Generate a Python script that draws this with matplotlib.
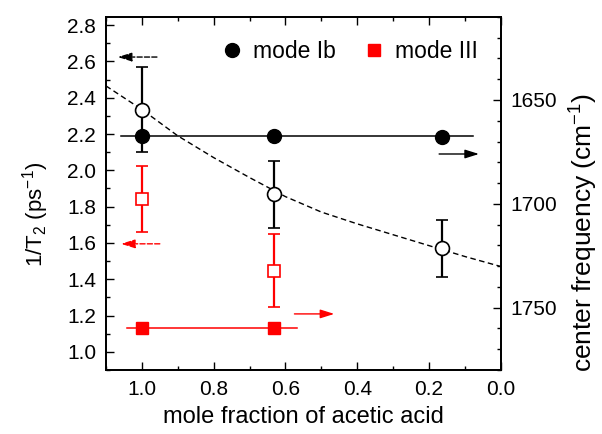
import matplotlib
matplotlib.use("Agg")
import matplotlib.pyplot as plt
from matplotlib.ticker import MultipleLocator
from matplotlib.lines import Line2D

plt.rcParams['font.family'] = ['Liberation Sans', 'DejaVu Sans']
plt.rcParams['mathtext.fontset'] = 'custom'
plt.rcParams['mathtext.rm'] = 'Liberation Sans'
plt.rcParams['mathtext.it'] = 'Liberation Sans'

# mole fraction of acetic acid
x_ib = [1.0, 0.633, 0.164]
x_iii = [1.0, 0.633]

# 1/T2 (left axis), open symbols
t2_ib = [2.335, 1.868, 1.572]
t2_ib_err = [0.235, 0.186, 0.157]
t2_iii = [1.842, 1.448]
t2_iii_err = [0.18, 0.2]

# dashed guide through the mode Ib 1/T2 values
guide_x = [1.1, 1.0, 0.9, 0.8, 0.7, 0.6, 0.5, 0.4, 0.3, 0.2, 0.1, 0.0]
guide_y = [2.465, 2.335, 2.19, 2.07, 1.96, 1.855, 1.77, 1.705, 1.645, 1.585, 1.525, 1.47]

# center frequency (right axis), filled symbols
freq_ib = [1667.4, 1667.4, 1667.8]
freq_iii = [1759.7, 1759.7]
freq_ib_line_x = [1.058, 0.078]
freq_iii_line_x = [1.042, 0.567]


def make_plot():
    fig = plt.figure(figsize=(6.02, 4.34), dpi=100)
    ax = fig.add_axes([0.176, 0.1475, 0.656, 0.8135])
    ax2 = ax.twinx()

    # left axis: 1/T2
    ax.plot(guide_x, guide_y, color='black', lw=1.0, ls=(0, (4, 2.5)))
    ax.errorbar(x_ib, t2_ib, yerr=t2_ib_err, fmt='o', mfc='white', mec='black',
                ms=10, mew=1.2, ecolor='black', elinewidth=1.6, capsize=4.5,
                capthick=1.6, zorder=3)
    ax.errorbar(x_iii, t2_iii, yerr=t2_iii_err, fmt='s', mfc='white', mec='red',
                ms=8, mew=1.2, ecolor='red', elinewidth=1.6, capsize=4.5,
                capthick=1.6, zorder=3)

    # right axis: center frequency
    ax2.plot(freq_ib_line_x, [freq_ib[0]] * 2, color='black', lw=1.1)
    ax2.plot(x_ib, freq_ib, 'o', color='black', ms=10)
    ax2.plot(freq_iii_line_x, [freq_iii[0]] * 2, color='red', lw=1.1)
    ax2.plot(x_iii, freq_iii, 's', color='red', ms=9)

    # arrows telling which axis each set belongs to
    head = '-|>,head_length=0.7,head_width=0.22'
    ax.annotate('', xy=(1.067, 2.624), xytext=(0.958, 2.624),
                arrowprops=dict(arrowstyle=head, color='black', lw=1.0, ls='--',
                                mutation_scale=12, shrinkA=0, shrinkB=0))
    ax.annotate('', xy=(1.058, 1.595), xytext=(0.95, 1.595),
                arrowprops=dict(arrowstyle=head, color='red', lw=1.0, ls='--',
                                mutation_scale=12, shrinkA=0, shrinkB=0))
    ax2.annotate('', xy=(0.061, 1676), xytext=(0.172, 1676),
                 arrowprops=dict(arrowstyle=head, color='black', lw=1.0,
                                 mutation_scale=12, shrinkA=0, shrinkB=0))
    ax2.annotate('', xy=(0.464, 1753), xytext=(0.575, 1753),
                 arrowprops=dict(arrowstyle=head, color='red', lw=1.0,
                                 mutation_scale=12, shrinkA=0, shrinkB=0))

    ax.set_xlim(1.1, 0.0)
    ax.set_ylim(0.9, 2.845)
    ax2.set_ylim(1780, 1610)

    ax.xaxis.set_major_locator(MultipleLocator(0.2))
    ax.xaxis.set_minor_locator(MultipleLocator(0.1))
    ax.yaxis.set_major_locator(MultipleLocator(0.2))
    ax.yaxis.set_minor_locator(MultipleLocator(0.1))
    ax2.yaxis.set_major_locator(MultipleLocator(50))
    ax2.yaxis.set_minor_locator(MultipleLocator(10))
    ax.xaxis.set_major_formatter(plt.FuncFormatter(lambda v, p: '%.1f' % v))
    ax.yaxis.set_major_formatter(plt.FuncFormatter(lambda v, p: '%.1f' % v))

    ax.tick_params(which='both', direction='in', top=True, labelsize=15,
                   width=1.0, pad=7)
    ax.tick_params(which='major', length=6)
    ax.tick_params(which='minor', length=3)
    ax2.tick_params(which='both', direction='in', labelsize=15, width=1.0, pad=7)
    ax2.tick_params(which='major', length=6)
    ax2.tick_params(which='minor', length=3)
    for a in (ax, ax2):
        for s in a.spines.values():
            s.set_linewidth(1.3)

    ax.set_xlabel('mole fraction of acetic acid', fontsize=17, labelpad=5)
    ax.set_ylabel('1/T$_2$ (ps$^{-1}$)', fontsize=16)
    ax.yaxis.set_label_coords(-0.14, 0.44)
    ax2.set_ylabel('center frequency (cm$^{-1}$)', fontsize=19)
    ax2.yaxis.set_label_coords(1.17, 0.39)

    handles = [Line2D([], [], marker='o', color='black', ls='none', ms=10),
               Line2D([], [], marker='s', color='red', ls='none', ms=9)]
    ax.legend(handles, ['mode Ib', 'mode III'], ncol=2, frameon=False,
              fontsize=16.5, loc='upper right', bbox_to_anchor=(1.0, 1.0),
              handletextpad=0.3, columnspacing=1.1, handlelength=1.2,
              borderaxespad=0.6)

    fig.savefig('out.png', dpi=100)


def main():
    make_plot()


if __name__ == "__main__":
    main()
